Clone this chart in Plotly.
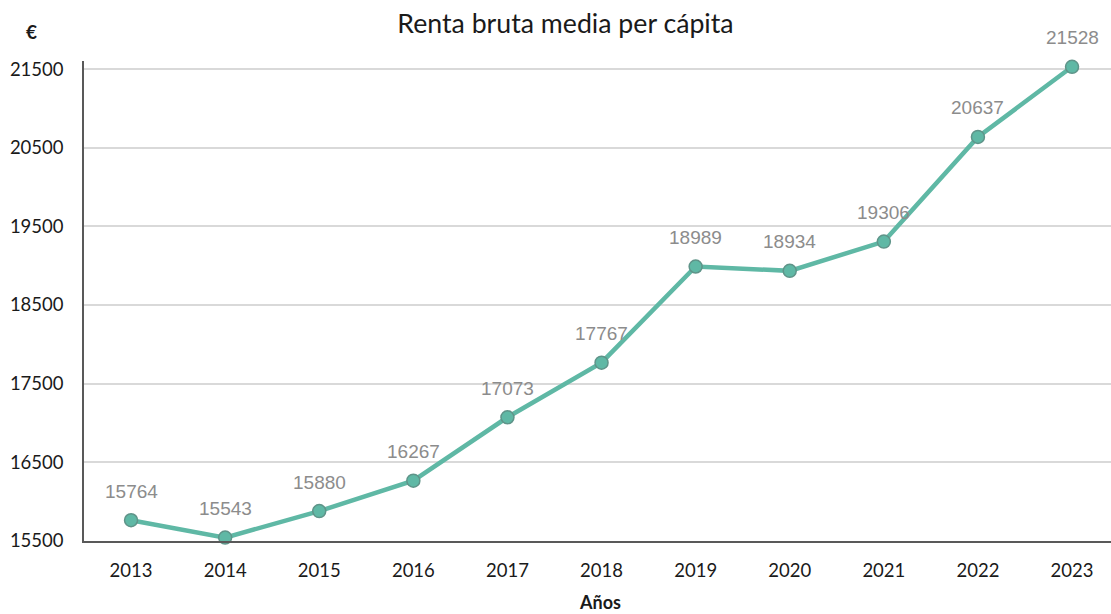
import plotly.graph_objects as go

years = ["2013", "2014", "2015", "2016", "2017", "2018", "2019", "2020", "2021", "2022", "2023"]
renta = [15764, 15543, 15880, 16267, 17073, 17767, 18989, 18934, 19306, 20637, 21528]
y_ticks = [15500, 16500, 17500, 18500, 19500, 20500, 21500]

FONT = "Lato, Open Sans"
xs = list(range(len(years)))

fig = go.Figure()
fig.add_trace(go.Scatter(
    x=xs, y=renta,
    mode="lines+markers",
    line=dict(color="#5fb8a5", width=4.5),
    marker=dict(size=13, color="#5fb8a5", line=dict(color="#5f9489", width=1.5)),
    cliponaxis=False,
    hoverinfo="skip",
))

annotations = [dict(x=x, y=v, xref="x", yref="y", text=str(v), showarrow=False,
                    yshift=29, xanchor="center", yanchor="middle",
                    font=dict(family="Liberation Sans, Arial", size=19, color="#8c8c8c"))
               for x, v in zip(xs, renta)]
annotations.append(dict(text="<b>€</b>", xref="paper", yref="paper", x=-0.051, y=1.062,
                        xanchor="center", yanchor="middle", showarrow=False,
                        font=dict(family=FONT, size=19, color="#1a1a1a")))
annotations.append(dict(text="<b>Años</b>", xref="paper", yref="paper", x=0.502, y=-0.128,
                        xanchor="center", yanchor="middle", showarrow=False,
                        font=dict(family=FONT, size=18, color="#1a1a1a")))

fig.update_layout(
    width=1111, height=614,
    margin=dict(l=84, r=0, t=61, b=73, autoexpand=False),
    paper_bgcolor="white", plot_bgcolor="white",
    showlegend=False,
    title=dict(text="Renta bruta media per cápita", x=0.509, xanchor="center",
               y=0.962, yanchor="middle",
               font=dict(family=FONT, size=26.7, color="#1a1a1a")),
    xaxis=dict(
        tickmode="array", tickvals=xs, ticktext=years,
        range=[-0.5, 10.414], showgrid=False, showline=True, linecolor="#595959",
        linewidth=1.5, ticks="", zeroline=False, automargin=False,
        ticklabelstandoff=12,
        tickfont=dict(family=FONT, size=18.5, color="#1a1a1a"),
    ),
    yaxis=dict(
        tickmode="array", tickvals=y_ticks, ticktext=[str(v) for v in y_ticks],
        range=[15500, 21602], showgrid=True, gridcolor="#d9d9d9", gridwidth=1.5,
        showline=True, linecolor="#595959", linewidth=1.5, zeroline=False,
        ticks="", ticklabelstandoff=15, automargin=False,
        tickfont=dict(family=FONT, size=18.5, color="#1a1a1a"),
    ),
    annotations=annotations,
)

fig.write_html("out.html", config={"displayModeBar": False},
               post_script="document.body.style.margin='0';")
